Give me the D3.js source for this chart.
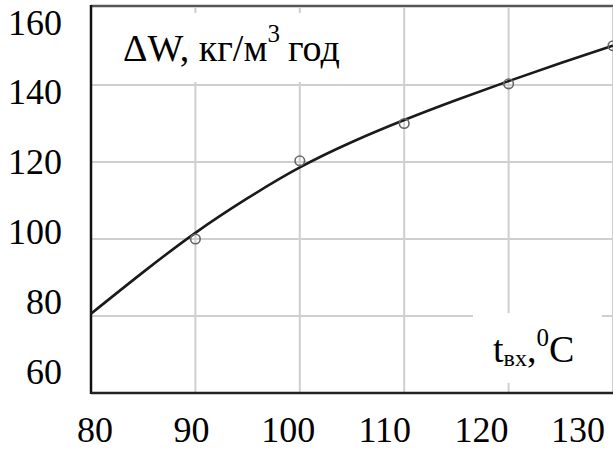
<!DOCTYPE html>
<html>
<head>
<meta charset="utf-8">
<script src="https://d3js.org/d3.v7.min.js"></script>
<style>
  body { margin: 0; background: #fff; }
  svg { display: block; font-family: 'Liberation Serif', 'Times New Roman', serif; }
</style>
</head>
<body>
<svg id="chart" width="613" height="450"></svg>
<script>
// fitted curve (every 5 degrees)
const curveT = [80, 85, 90, 95, 100, 105, 110, 115, 120, 125, 130];
const curveW = [80.6, 91.4, 101.6, 110.6, 118.6, 125.2, 130.9, 136.1, 141, 145.7, 150.2];

// measured points
const pointT = [90, 100, 110, 120, 130];
const pointW = [100, 120.3, 130, 140.3, 150.2];

const xTicks = [80, 90, 100, 110, 120, 130];
const yTicks = [60, 80, 100, 120, 140, 160];

const svg = d3.select('#chart');

const x = d3.scaleLinear().domain([80, 130]).range([91, 613]);
const y = d3.scaleLinear().domain([60, 160]).range([393, 8]);

// tick labels in the source are spaced a bit tighter than the grid
const xLab = d3.scaleLinear().domain([80, 130]).range([95, 578]);
const yLab = d3.scaleLinear().domain([60, 160]).range([371, 22]);

// grid
svg.append('g').selectAll('line.gx')
  .data(xTicks.slice(1))
  .enter().append('line')
  .attr('x1', d => x(d)).attr('x2', d => x(d))
  .attr('y1', y(160)).attr('y2', y(60))
  .attr('stroke', '#cfcfcf').attr('stroke-width', 2);

svg.append('g').selectAll('line.gy')
  .data(yTicks.slice(1, -1))
  .enter().append('line')
  .attr('x1', x(80)).attr('x2', x(130))
  .attr('y1', d => y(d)).attr('y2', d => y(d))
  .attr('stroke', '#cfcfcf').attr('stroke-width', 2);

// white boxes behind the in-plot labels
svg.append('rect').attr('x', 94).attr('y', 13).attr('width', 266).attr('height', 69).attr('fill', '#fff');
svg.append('rect').attr('x', 473).attr('y', 313).attr('width', 129).attr('height', 70).attr('fill', '#fff');

// frame
svg.append('line').attr('x1', x(80)).attr('x2', x(130)).attr('y1', 6).attr('y2', 6)
  .attr('stroke', '#555').attr('stroke-width', 2.5);
svg.append('line').attr('x1', x(80)).attr('x2', x(80)).attr('y1', 5).attr('y2', y(60) + 1)
  .attr('stroke', '#111').attr('stroke-width', 2.5);
svg.append('line').attr('x1', x(80)).attr('x2', x(130)).attr('y1', y(60)).attr('y2', y(60))
  .attr('stroke', '#222').attr('stroke-width', 2.5);

// curve
const line = d3.line()
  .x((d, i) => x(curveT[i]))
  .y(d => y(d))
  .curve(d3.curveNatural);

svg.append('path')
  .datum(curveW)
  .attr('d', line)
  .attr('fill', 'none')
  .attr('stroke', '#1a1a1a')
  .attr('stroke-width', 2.6);

// points
svg.append('g').selectAll('circle')
  .data(pointW)
  .enter().append('circle')
  .attr('cx', (d, i) => x(pointT[i]))
  .attr('cy', d => y(d))
  .attr('r', 4.8)
  .attr('fill', 'none')
  .attr('stroke', '#666')
  .attr('stroke-width', 1.6);

// tick labels
svg.append('g').selectAll('text')
  .data(yTicks)
  .enter().append('text')
  .attr('x', 62)
  .attr('y', d => yLab(d))
  .attr('dy', '0.35em')
  .attr('text-anchor', 'end')
  .attr('font-size', 36)
  .text(d => d);

svg.append('g').selectAll('text')
  .data(xTicks)
  .enter().append('text')
  .attr('x', d => xLab(d))
  .attr('y', 442)
  .attr('text-anchor', 'middle')
  .attr('font-size', 36)
  .text(d => d);

// axis titles
const t1 = svg.append('text').attr('x', 123).attr('y', 61).attr('font-size', 38);
t1.append('tspan').text('ΔW, кг/м');
t1.append('tspan').attr('font-size', 25).attr('dy', -19).text('3');
t1.append('tspan').attr('dy', 19).attr('dx', 8).text('год');

const t2 = svg.append('text').attr('x', 493).attr('y', 362).attr('font-size', 38);
t2.append('tspan').text('t');
t2.append('tspan').attr('font-size', 24).attr('dy', 4).text('вх');
t2.append('tspan').attr('dy', -4).text(',');
t2.append('tspan').attr('font-size', 25).attr('dy', -16).text('0');
t2.append('tspan').attr('dy', 16).text('C');
</script>
</body>
</html>
